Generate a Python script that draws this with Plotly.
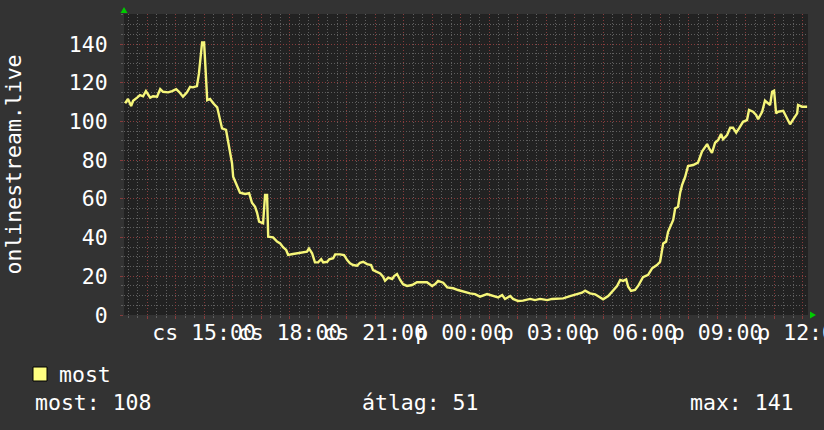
import plotly.graph_objects as go

# ---- data (time in hours from midnight of day 1; values = listeners) ----
hours = [12.23, 12.33, 12.44, 12.51, 12.65, 12.75, 12.86, 12.96, 13.11, 13.21, 13.35, 13.46, 13.56, 13.74,
         13.88, 14.02, 14.12, 14.26, 14.40, 14.51, 14.61, 14.75, 14.82, 14.86, 14.93, 15.00, 15.04, 15.07,
         15.11, 15.21, 15.32, 15.46, 15.53, 15.63, 15.77, 15.84, 15.91, 15.98, 16.02, 16.16, 16.26, 16.44,
         16.58, 16.68, 16.79, 16.86, 16.93, 17.07, 17.14, 17.21, 17.25, 17.42, 17.56, 17.67, 17.77, 17.88,
         17.95, 18.12, 18.30, 18.47, 18.61, 18.68, 18.79, 18.89, 19.00, 19.11, 19.18, 19.32, 19.39, 19.53,
         19.60, 19.77, 19.91, 20.02, 20.12, 20.23, 20.37, 20.47, 20.58, 20.72, 20.86, 20.93, 21.07, 21.18,
         21.28, 21.35, 21.46, 21.60, 21.67, 21.77, 21.88, 21.98, 22.12, 22.30, 22.47, 22.65, 22.82, 23.00,
         23.11, 23.21, 23.39, 23.53, 23.74, 23.91, 24.09, 24.26, 24.33, 24.51, 24.68, 24.93, 25.14, 25.32,
         25.46, 25.56, 25.74, 25.84, 26.02, 26.19, 26.44, 26.61, 26.79, 27.04, 27.21, 27.42, 27.60, 27.84,
         28.09, 28.26, 28.37, 28.54, 28.72, 28.89, 29.00, 29.18, 29.35, 29.49, 29.60, 29.70, 29.81, 29.88,
         29.98, 30.12, 30.23, 30.40, 30.58, 30.72, 30.89, 31.00, 31.11, 31.21, 31.28, 31.35, 31.46, 31.53,
         31.63, 31.70, 31.77, 31.88, 31.98, 32.16, 32.33, 32.47, 32.54, 32.65, 32.72, 32.82, 32.93, 33.04,
         33.14, 33.21, 33.35, 33.46, 33.56, 33.67, 33.77, 33.91, 34.05, 34.12, 34.26, 34.37, 34.44, 34.58,
         34.68, 34.79, 34.86, 34.93, 35.00, 35.07, 35.14, 35.32, 35.39, 35.49, 35.56, 35.67, 35.81, 35.84,
         35.98, 36.16]
listeners = [109.4, 111.6, 108.0, 110.7, 112.3, 113.6, 113.0, 115.7, 112.3, 113.0, 112.8, 116.7, 115.3, 115.0,
             115.7, 116.7, 115.3, 112.8, 115.0, 117.9, 117.6, 118.3, 124.8, 130.8, 140.8, 140.8, 130.0, 120.5,
             111.0, 111.6, 109.4, 107.3, 102.4, 96.4, 95.6, 90.4, 83.5, 78.4, 71.4, 67.1, 63.2, 62.5,
             62.9, 58.0, 55.9, 52.8, 48.2, 47.4, 62.0, 62.0, 40.4, 40.1, 37.9, 37.0, 35.0, 33.6,
             31.0, 31.5, 31.9, 32.4, 32.7, 34.4, 31.9, 27.2, 27.2, 28.8, 27.2, 27.5, 28.8, 29.3,
             31.3, 31.3, 31.0, 28.4, 26.7, 25.8, 25.5, 27.0, 27.5, 26.3, 25.8, 23.2, 22.4, 21.5,
             19.8, 17.7, 19.3, 18.6, 20.1, 21.2, 18.1, 15.9, 15.0, 15.5, 16.9, 16.9, 16.9, 15.0,
             16.0, 17.6, 16.7, 14.3, 13.8, 12.9, 12.0, 11.5, 11.2, 10.8, 9.5, 10.8, 9.8, 9.1,
             10.3, 8.3, 9.8, 8.3, 7.2, 7.4, 8.3, 7.7, 8.3, 7.7, 8.3, 8.6, 8.6, 9.8,
             10.8, 11.5, 12.6, 11.2, 10.7, 8.9, 8.1, 9.8, 12.9, 15.0, 18.1, 17.6, 18.4, 14.6,
             12.4, 12.9, 15.0, 19.5, 20.7, 24.1, 25.8, 27.5, 37.0, 37.9, 43.0, 45.6, 49.1, 55.1,
             55.9, 62.9, 67.1, 71.4, 77.0, 77.5, 78.7, 84.4, 86.1, 88.3, 86.1, 83.8, 89.0, 90.4,
             93.5, 90.8, 93.0, 96.7, 96.7, 94.2, 96.4, 99.8, 100.7, 105.9, 105.0, 103.3, 101.1, 105.0,
             110.7, 109.4, 108.5, 115.3, 115.9, 104.2, 105.0, 105.5, 103.3, 99.8, 98.5, 101.1, 104.2, 108.5,
             107.6, 107.6]

series_name = "most"
axis_title = "onlinestream.live"
tick_hours = [15, 18, 21, 24, 27, 30, 33, 36]
tick_labels = ["cs 15:00", "cs 18:00", "cs 21:00", "p 00:00", "p 03:00", "p 06:00", "p 09:00", "p 12:00"]
y_ticks = [0, 20, 40, 60, 80, 100, 120, 140]
stat_current, stat_avg, stat_max = 108, 51, 141
stat_labels = ["most", "átlag", "max"]

# ---- layout geometry (pixels) ----
W, H = 824, 430
PL, PR, PT, PB = 124, 808, 14, 315
pw, ph = PR - PL, PB - PT


def px(x):
    return (x - PL) / pw


def py(y):
    return (PB - y) / ph


FONT = "DejaVu Sans Mono"
FS = 21.5
MAJOR = "rgb(135,60,60)"
MINOR = "rgb(95,95,95)"
DASH = "1px,2px"

hour_vals = list(range(13, 37))
hour_text = [tick_labels[tick_hours.index(h)] if h in tick_hours else "" for h in hour_vals]

fig = go.Figure()
fig.add_trace(go.Scatter(x=hours, y=listeners, mode="lines", name=series_name,
                         line=dict(color="#F6F67A", width=2.4), showlegend=False))

fig.update_layout(
    width=W, height=H,
    margin=dict(l=PL, r=W - PR, t=PT, b=H - PB, autoexpand=False),
    paper_bgcolor="#333333", plot_bgcolor="#222222",
    font=dict(family=FONT, color="#ffffff", size=FS),
    xaxis=dict(range=[12.19, 36.19], tickmode="array", tickvals=hour_vals, ticktext=hour_text,
               tickangle=0, automargin=False, ticklabeloverflow="allow",
               showgrid=True, gridcolor=MAJOR, griddash=DASH, gridwidth=1,
               ticks="outside", ticklen=3, tickcolor=MAJOR, zeroline=False,
               showline=False, tickfont=dict(size=FS, family=FONT, color="#ffffff"),
               ticklabelstandoff=-5,
               minor=dict(dtick=1 / 3, tick0=12, showgrid=True, gridcolor=MINOR, griddash=DASH,
                          gridwidth=1, ticks="outside", ticklen=2, tickcolor=MINOR)),
    yaxis=dict(range=[0, 155.5], tickmode="array", tickvals=y_ticks, automargin=False,
               showgrid=True, gridcolor=MAJOR, griddash=DASH, gridwidth=1,
               ticks="outside", ticklen=3, tickcolor=MAJOR, zeroline=False, showline=False,
               tickfont=dict(size=FS, family=FONT, color="#ffffff"), ticklabelstandoff=8,
               minor=dict(dtick=5, tick0=0, showgrid=True, gridcolor=MINOR, griddash=DASH,
                          gridwidth=1, ticks="outside", ticklen=2, tickcolor=MINOR)),
)

ann = [
    dict(text=axis_title, x=px(13), y=0.5, textangle=-90, xanchor="center", yanchor="middle"),
    dict(text=series_name, x=px(57), y=py(374), xanchor="left", yanchor="middle"),
    dict(text=f"{stat_labels[0]}: {stat_current}", x=px(33), y=py(402), xanchor="left", yanchor="middle"),
    dict(text=f"{stat_labels[1]}: {stat_avg}", x=px(360), y=py(402), xanchor="left", yanchor="middle"),
    dict(text=f"{stat_labels[2]}: {stat_max}", x=px(688), y=py(402), xanchor="left", yanchor="middle"),
]
for a in ann:
    a.update(xref="paper", yref="paper", showarrow=False,
             font=dict(family=FONT, size=FS, color="#ffffff"))
fig.update_layout(annotations=ann)

shapes = [
    # legend swatch
    dict(type="rect", xref="paper", yref="paper", x0=px(33), x1=px(47), y0=py(381), y1=py(367),
         fillcolor="#FFFF80", line=dict(color="#000000", width=1)),
    # axis arrows
    dict(type="path", xref="paper", yref="paper",
         path=f"M {px(120.5)} {py(13)} L {px(127.5)} {py(13)} L {px(124)} {py(7)} Z",
         fillcolor="#00CC00", line=dict(width=0)),
    dict(type="path", xref="paper", yref="paper",
         path=f"M {px(810)} {py(311.5)} L {px(810)} {py(318.5)} L {px(816)} {py(315)} Z",
         fillcolor="#00CC00", line=dict(width=0)),
]
fig.update_layout(shapes=shapes)

fig.write_html("out.html", config={"displayModeBar": False},
               post_script="document.body.style.margin='0';document.body.style.overflow='hidden';")
